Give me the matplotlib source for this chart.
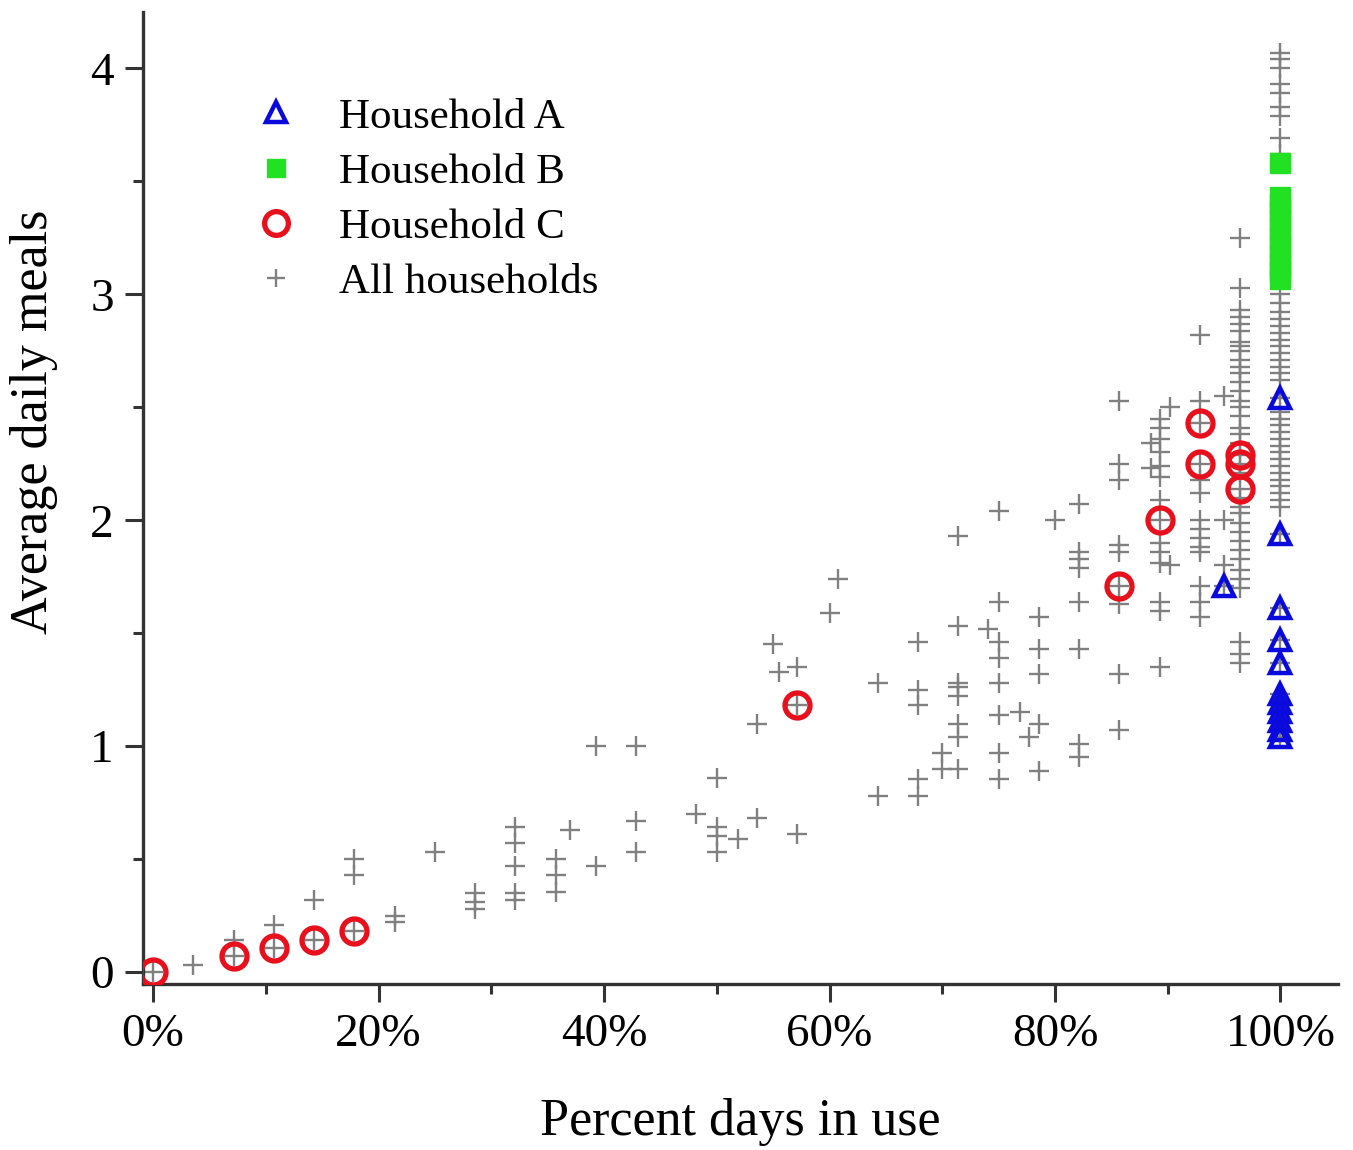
import matplotlib
matplotlib.use("Agg")
import matplotlib.pyplot as plt
from matplotlib.ticker import MultipleLocator, FuncFormatter

plt.rcParams['font.family'] = ['Liberation Serif', 'DejaVu Serif']

# ---- data ----
# All households: x-positions (percent days in use) and the y-values at each
all_pct = [0, 3.57, 7.14, 10.71, 14.29, 17.86, 21.43, 25.0, 28.57, 32.14,
           35.71, 37.0, 39.29, 42.86, 48.2, 50.0, 51.9, 53.57, 55.0, 55.5,
           57.14, 60.0, 60.71, 64.29, 67.86, 70.0, 71.43, 74.1, 75.0, 76.9,
           77.7, 78.57, 80.0, 82.14, 85.71, 88.5, 89.29, 90.2, 92.86, 95.0,
           96.43, 100.0]
all_meals = [
    [0.0], [0.03], [0.07, 0.14], [0.105, 0.21], [0.14, 0.32], [0.18, 0.43, 0.50],
    [0.22, 0.25], [0.53], [0.28, 0.31, 0.35], [0.32, 0.35, 0.47, 0.57, 0.64],
    [0.355, 0.43, 0.50], [0.63], [0.47, 1.0], [0.53, 0.67, 1.0], [0.70],
    [0.53, 0.60, 0.64, 0.86], [0.59], [0.68, 1.10], [1.45], [1.33],
    [0.61, 1.18, 1.35], [1.59], [1.74], [0.78, 1.28],
    [0.78, 0.855, 1.18, 1.25, 1.46], [0.90, 0.97],
    [0.90, 1.04, 1.10, 1.22, 1.26, 1.28, 1.53, 1.93], [1.52],
    [0.855, 0.97, 1.14, 1.28, 1.39, 1.46, 1.64, 2.04], [1.15],
    [1.04], [0.89, 1.10, 1.32, 1.43, 1.57], [2.0],
    [0.95, 1.01, 1.43, 1.64, 1.79, 1.83, 1.86, 2.07],
    [1.07, 1.32, 1.63, 1.71, 1.86, 1.89, 2.18, 2.25, 2.53],
    [2.23, 2.34],
    [1.35, 1.60, 1.64, 1.81, 1.86, 1.90, 2.0, 2.09, 2.19, 2.24, 2.30, 2.36, 2.41, 2.45],
    [1.80, 2.50],
    [1.57, 1.64, 1.71, 1.86, 1.88, 1.92, 1.96, 2.0, 2.12, 2.18, 2.25, 2.43, 2.53, 2.82],
    [1.71, 1.80, 2.0, 2.55],
    [1.37, 1.41, 1.46, 1.70, 1.74, 1.78, 1.83, 1.87, 1.91, 1.95, 1.99, 2.03, 2.06,
     2.10, 2.14, 2.21, 2.25, 2.29, 2.34, 2.38, 2.41, 2.46, 2.50, 2.53, 2.57, 2.61,
     2.65, 2.68, 2.71, 2.75, 2.77, 2.79, 2.84, 2.87, 2.90, 2.93, 3.03, 3.25],
    [1.04, 1.07, 1.11, 1.15, 1.19, 1.23, 1.37, 1.47, 1.61, 1.94, 2.06, 2.09, 2.12,
     2.15, 2.18, 2.21, 2.24, 2.27, 2.30, 2.33, 2.36, 2.39, 2.42, 2.45, 2.48, 2.54,
     2.62, 2.65, 2.68, 2.71, 2.74, 2.77, 2.80, 2.83, 2.86, 2.89, 2.92, 2.96, 3.00,
     3.62, 3.69, 3.79, 3.83, 3.89, 3.93, 4.00, 4.04, 4.07],
]

# Household A (triangles)
a_pct = [95.0, 100, 100, 100, 100, 100, 100, 100, 100, 100, 100, 100]
a_meals = [1.71, 2.54, 1.94, 1.61, 1.47, 1.37, 1.23, 1.19, 1.15, 1.11, 1.07, 1.04]

# Household B (squares)
b_pct = [100] * 12
b_meals = [3.58, 3.43, 3.40, 3.37, 3.33, 3.29, 3.25, 3.21, 3.17, 3.13, 3.10, 3.07]

# Household C (circles)
c_pct = [0, 7.14, 10.71, 14.29, 17.86, 57.14, 85.71, 89.29, 92.86, 92.86, 96.43, 96.43, 96.43]
c_meals = [0.0, 0.07, 0.105, 0.14, 0.18, 1.18, 1.71, 2.0, 2.43, 2.25, 2.29, 2.25, 2.14]

# ---- figure ----
W, H = 1353, 1150
fig = plt.figure(figsize=(W / 100, H / 100), dpi=100)
ax = fig.add_axes([143 / W, 1 - 984 / H, (1338 - 143) / W, (984 - 12) / H])

xs, ys = [], []
for p, vals in zip(all_pct, all_meals):
    for v in vals:
        xs.append(p)
        ys.append(v)

h_all, = ax.plot(xs, ys, linestyle='none', marker='+', markersize=14, mew=1.7,
                 color='#808080', zorder=2, label='All households')
h_b, = ax.plot(b_pct, b_meals, linestyle='none', marker='s', markersize=14,
               color='#22e022', mec='#22e022', zorder=3, label='Household B')
h_a, = ax.plot(a_pct, a_meals, linestyle='none', marker='^', markersize=15,
               mfc='none', mec='#0a0adc', mew=3.2, zorder=4, label='Household A')
h_c, = ax.plot(c_pct, c_meals, linestyle='none', marker='o', markersize=18,
               mfc='none', mec='#e8101c', mew=3.8, zorder=5, label='Household C')

ax.set_xlim(-0.89, 105.1)
ax.set_ylim(-0.053, 4.25)

for s in ['top', 'right']:
    ax.spines[s].set_visible(False)
for s in ['left', 'bottom']:
    ax.spines[s].set_linewidth(2.4)
    ax.spines[s].set_color('#333333')

ax.xaxis.set_major_locator(MultipleLocator(20))
ax.xaxis.set_minor_locator(MultipleLocator(10))
ax.yaxis.set_major_locator(MultipleLocator(1))
ax.yaxis.set_minor_locator(MultipleLocator(0.5))
ax.xaxis.set_major_formatter(FuncFormatter(lambda v, p: f"{int(round(v))}%"))
ax.tick_params(which='major', direction='out', length=13, width=2.2, color='#333333',
               labelsize=34, pad=8)
ax.tick_params(which='minor', direction='out', length=7, width=2.2, color='#333333')

ax.set_xlabel('Percent days in use', fontsize=37.5)
ax.set_ylabel('Average daily meals', fontsize=37.5)
ax.xaxis.set_label_coords(0.5, -0.117)
ax.yaxis.set_label_coords(-0.071, 0.578)

leg = ax.legend(handles=[h_a, h_b, h_c, h_all], loc='upper left',
                bbox_to_anchor=(0.057, 0.952), frameon=False, fontsize=31,
                handlelength=1.2, handletextpad=0.86, labelspacing=0.375,
                markerscale=0.95)

fig.savefig('out.png', dpi=100, facecolor='white')
